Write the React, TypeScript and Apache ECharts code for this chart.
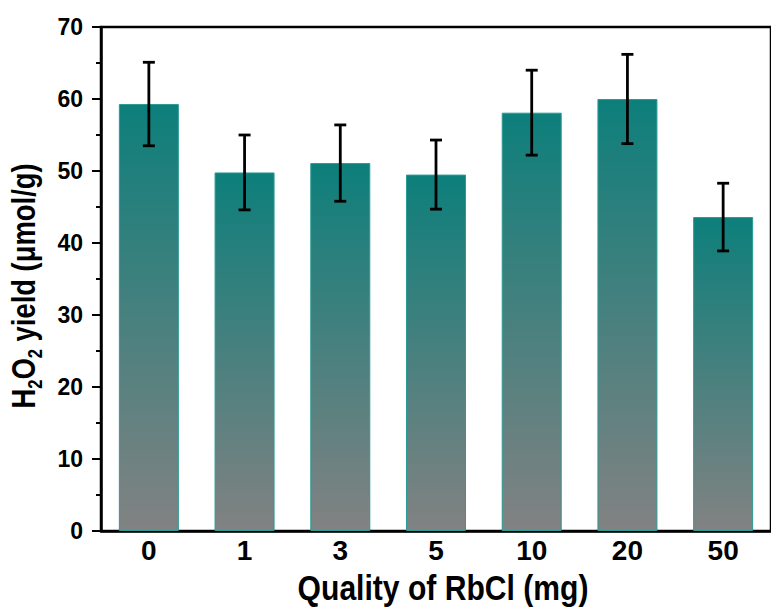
import React, { useEffect, useRef } from "react";
import * as echarts from "echarts";

const categories = ["0", "1", "3", "5", "10", "20", "50"];
const yieldValues = [59.3, 49.8, 51.1, 49.5, 58.1, 60.0, 43.6];
const errorValues = [5.8, 5.2, 5.3, 4.8, 5.9, 6.2, 4.7];
const yTicks = { min: 0, max: 70, interval: 10 };
const xTitle = "Quality of RbCl (mg)";

export default function App() {
  const ref = useRef<HTMLDivElement>(null);
  useEffect(() => {
    if (!ref.current) return;
    const chart = echarts.init(ref.current, undefined, { renderer: "svg" });
    const font = "'Liberation Sans', Arial, sans-serif";
    const errData = yieldValues.map((v, i) => [i, v - errorValues[i], v + errorValues[i]]);
    chart.setOption({
      animation: false,
      backgroundColor: "#fff",
      grid: {
        left: 101,
        top: 27,
        width: 678,
        height: 504,
        show: true,
        borderColor: "#000",
        borderWidth: 2.5,
        backgroundColor: "transparent",
      },
      graphic: [
        {
          type: "text",
          x: 443,
          y: 588,
          scaleX: 0.86,
          style: {
            text: xTitle,
            fill: "#000",
            fontSize: 35,
            fontWeight: "bold",
            fontFamily: font,
            align: "center",
            verticalAlign: "middle",
          },
        },
        {
          type: "text",
          x: 26,
          y: 286,
          rotation: Math.PI / 2,
          scaleX: 0.83,
          style: {
            text: "{n|H}{s|2}{n|O}{s|2}{n| yield (μmol/g)}",
            align: "center",
            verticalAlign: "middle",
            rich: {
              n: {
                fill: "#000",
                fontSize: 33,
                lineHeight: 33,
                fontWeight: "bold",
                fontFamily: font,
                verticalAlign: "top",
              },
              s: {
                fill: "#000",
                fontSize: 20,
                lineHeight: 38,
                fontWeight: "bold",
                fontFamily: font,
                verticalAlign: "bottom",
              },
            },
          },
        },
      ],
      xAxis: {
        type: "category",
        data: categories,
        axisLine: { show: true, lineStyle: { color: "#000", width: 2.5 } },
        axisTick: { show: false },
        axisLabel: {
          color: "#000",
          fontSize: 28,
          fontWeight: "bold",
          fontFamily: font,
          margin: 5,
        },
      },
      yAxis: {
        type: "value",
        min: yTicks.min,
        max: yTicks.max,
        interval: yTicks.interval,
        axisLine: { show: true, lineStyle: { color: "#000", width: 2.5 } },
        axisTick: { show: true, inside: false, length: 9, lineStyle: { color: "#000", width: 2 } },
        minorTick: { show: true, splitNumber: 2, length: 5, lineStyle: { color: "#000", width: 2 } },
        splitLine: { show: false },
        axisLabel: {
          color: "#000",
          fontSize: 23,
          fontWeight: "bold",
          fontFamily: font,
          margin: 18,
        },
      },
      series: [
        {
          type: "bar",
          data: yieldValues,
          barWidth: 60,
          itemStyle: {
            color: new echarts.graphic.LinearGradient(0, 0, 0, 1, [
              { offset: 0, color: "#0d7f7b" },
              { offset: 1, color: "#828282" },
            ]),
            borderColor: "#2a9a95",
            borderWidth: 1,
          },
          z: 2,
        },
        {
          type: "custom",
          data: errData,
          z: 5,
          renderItem: (params: any, api: any) => {
            const x = api.value(0);
            const lo = api.coord([x, api.value(1)]);
            const hi = api.coord([x, api.value(2)]);
            const hw = 6;
            const style = { stroke: "#000", lineWidth: 2.8 };
            return {
              type: "group",
              children: [
                { type: "line", shape: { x1: hi[0], y1: hi[1], x2: lo[0], y2: lo[1] }, style },
                { type: "line", shape: { x1: hi[0] - hw, y1: hi[1], x2: hi[0] + hw, y2: hi[1] }, style },
                { type: "line", shape: { x1: lo[0] - hw, y1: lo[1], x2: lo[0] + hw, y2: lo[1] }, style },
              ],
            };
          },
        },
      ],
    });
    return () => chart.dispose();
  }, []);
  return (
    <div
      ref={ref}
      style={{ position: "absolute", left: 0, top: 0, width: 771, height: 613 }}
    />
  );
}
